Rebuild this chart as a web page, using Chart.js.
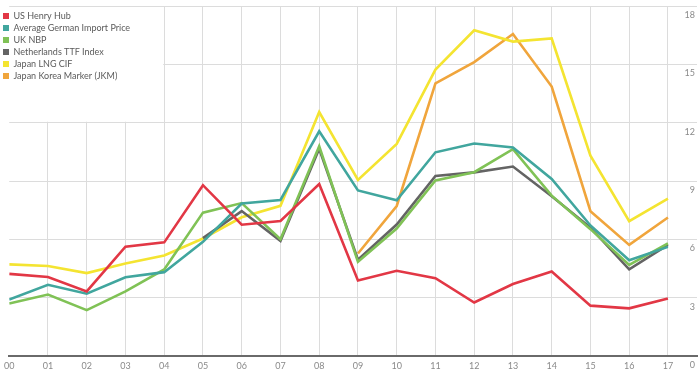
<!DOCTYPE html>
<html>
<head>
<meta charset="utf-8">
<script src="https://cdn.jsdelivr.net/npm/chart.js@4/dist/chart.umd.min.js"></script>
<style>
  html, body { margin: 0; padding: 0; background: #ffffff; }
  #wrap { width: 700px; height: 380px; }
</style>
</head>
<body>
<div id="wrap"><canvas id="c" width="700" height="380"></canvas></div>
<script>
// ---- data (US$/MMBtu) ----
const years = ['00','01','02','03','04','05','06','07','08','09','10','11','12','13','14','15','16','17'];
const yTickValues = [0, 3, 6, 9, 12, 15, 18];

const seriesNames = ['US Henry Hub', 'Average German Import Price', 'UK NBP', 'Netherlands TTF Index', 'Japan LNG CIF', 'Japan Korea Marker (JKM)'];

const henryHub   = [4.23, 4.07, 3.33, 5.63, 5.85, 8.79, 6.76, 6.95, 8.85, 3.89, 4.39, 4.01, 2.76, 3.71, 4.35, 2.60, 2.46, 2.96];
const germanImp  = [2.91, 3.67, 3.21, 4.06, 4.32, 5.88, 7.85, 8.03, 11.56, 8.52, 8.01, 10.48, 10.93, 10.73, 9.11, 6.72, 4.93, 5.62];
const ukNbp      = [2.71, 3.17, 2.37, 3.33, 4.46, 7.38, 7.87, 6.01, 10.79, 4.85, 6.56, 9.03, 9.46, 10.64, 8.25, 6.53, 4.69, 5.80];
const ttf        = [null, null, null, null, null, 6.07, 7.46, 5.93, 10.66, 4.96, 6.77, 9.26, 9.45, 9.75, 8.22, 6.61, 4.46, 5.72];
const japanLng   = [4.72, 4.64, 4.27, 4.77, 5.18, 6.05, 7.14, 7.73, 12.55, 9.06, 10.91, 14.73, 16.75, 16.17, 16.33, 10.31, 6.94, 8.10];
const jkm        = [null, null, null, null, null, null, null, null, null, 5.28, 7.72, 14.02, 15.12, 16.56, 13.86, 7.45, 5.72, 7.13];

const seriesValues = [henryHub, germanImp, ukNbp, ttf, japanLng, jkm];
const seriesColors = ['#e23745', '#41a69e', '#80c256', '#646464', '#f4e431', '#f0a53c'];

const toPoints = (vals) => vals.map((v, i) => ({ x: i, y: v }));

const datasets = seriesValues.map((vals, k) => ({
  label: seriesNames[k],
  data: toPoints(vals),
  borderColor: seriesColors[k],
  backgroundColor: seriesColors[k],
  borderWidth: 2.6,
  pointRadius: 0,
  pointHoverRadius: 0,
  tension: 0,
  spanGaps: false,
  fill: false
}));

// white panel behind the legend, then legend drawn on top of it
const legendPanel = {
  id: 'legendPanel',
  afterLayout(chart) {
    const lg = chart.legend;
    if (!lg) return;
    lg.left = 0;
    lg.top = chart.chartArea.top + 2.5;
  },
  beforeDatasetsDraw(chart) {
    const { ctx, chartArea, scales } = chart;
    const xEnd = scales.x.getPixelForValue(4) - 1;
    const yEnd = scales.y.getPixelForValue(12) - 1;
    ctx.save();
    ctx.fillStyle = '#ffffff';
    ctx.fillRect(0, chartArea.top + 1, xEnd, yEnd - chartArea.top - 1);
    ctx.restore();
    chart.legend.draw();
  }
};

const gridColor = '#dcdcdc';
const tickColor = '#8a8a8a';
const fontFamily = 'Lato, "Open Sans", Arial, sans-serif';

new Chart(document.getElementById('c'), {
  type: 'line',
  data: { datasets },
  plugins: [legendPanel],
  options: {
    responsive: false,
    animation: false,
    events: [],
    layout: { padding: { left: 0, right: 3, top: 6, bottom: 5 } },
    plugins: {
      tooltip: { enabled: false },
      legend: {
        position: 'chartArea',
        align: 'start',
        labels: {
          boxWidth: 6,
          boxHeight: 6,
          padding: 3,
          color: '#5a5a5a',
          font: { family: fontFamily, size: 9 },
          generateLabels(chart) {
            return Chart.defaults.plugins.legend.labels.generateLabels(chart)
              .map(l => Object.assign(l, { lineWidth: 0 }));
          }
        }
      }
    },
    scales: {
      x: {
        type: 'linear',
        min: 0,
        max: 17.75,
        afterBuildTicks(scale) {
          scale.ticks = years.map((_, i) => ({ value: i }));
        },
        grid: {
          drawTicks: false,
          color: (c) => (c.index === 0 ? 'rgba(0,0,0,0)' : gridColor),
          lineWidth: 1
        },
        border: { display: true, color: '#6a6a6a', width: 2 },
        ticks: {
          padding: 4,
          maxRotation: 0,
          autoSkip: false,
          color: tickColor,
          font: { family: fontFamily, size: 9 },
          callback: (v) => years[v]
        }
      },
      y: {
        position: 'right',
        min: 0,
        max: 18,
        afterBuildTicks(scale) {
          scale.ticks = yTickValues.map(v => ({ value: v }));
        },
        grid: { drawTicks: false, color: gridColor, lineWidth: 1 },
        border: { display: false },
        ticks: {
          mirror: true,
          padding: -2,
          labelOffset: 9,
          color: tickColor,
          font: { family: fontFamily, size: 9 },
          callback: (v) => String(v)
        }
      }
    }
  }
});
</script>
</body>
</html>
